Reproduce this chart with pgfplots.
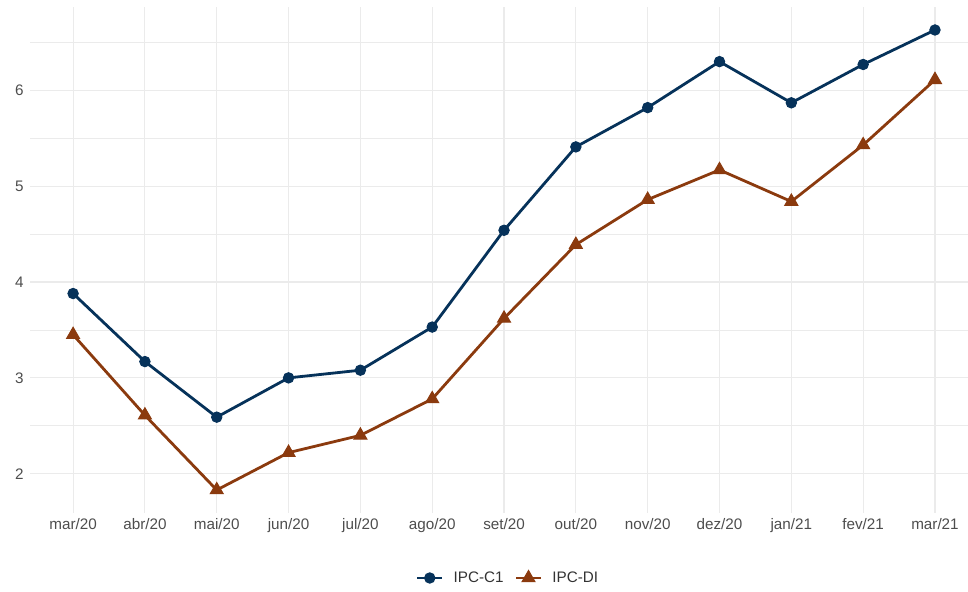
\documentclass[border=0pt]{standalone}
\usepackage{pgfplots}
\pgfplotsset{compat=1.18}
\usepackage{fontspec}
\setmainfont{Liberation Sans}
\definecolor{cnavy}{HTML}{06325A}
\definecolor{cbrown}{HTML}{8B3A0E}
\definecolor{grid}{HTML}{EBEBEB}
\definecolor{ticktxt}{HTML}{4D4D4D}
\begin{document}
\begin{tikzpicture}[x=1bp,y=1bp]
\useasboundingbox (0,0) rectangle (968,592);
\begin{axis}[
  at={(30bp,79bp)}, anchor=south west,
  scale only axis, width=938bp, height=506bp,
  xmin=-0.6, xmax=12.46, ymin=1.59, ymax=6.87,
  axis line style={draw=none},
  tick style={draw=none},
  xtick={0,...,12},
  xticklabels={mar/20,abr/20,mai/20,jun/20,jul/20,ago/20,set/20,out/20,nov/20,dez/20,jan/21,fev/21,mar/21},
  ytick={2,3,4,5,6},
  minor ytick={1.5,2.5,3.5,4.5,5.5,6.5},
  grid=both,
  major grid style={draw=grid, line width=1.1bp},
  minor grid style={draw=grid, line width=0.6bp},
  ticklabel style={font=\fontsize{15.3}{18}\selectfont, text=ticktxt},
  /pgf/number format/assume math mode=true,
  xticklabel style={yshift=-2bp},
  yticklabel style={xshift=-3bp},
  legend style={at={(480bp,-65bp)}, anchor=center, draw=none, fill=none, legend columns=2,
    font=\fontsize{15.3}{18}\selectfont, text=black!80,
    nodes={inner xsep=6bp},
    /tikz/every odd column/.append style={column sep=4bp}},
  legend image code/.code={\draw[#1] (0bp,0bp) -- (25bp,0bp); \draw[#1, mark repeat=2, mark phase=2] plot coordinates {(0bp,0bp) (12.5bp,0bp) (25bp,0bp)};},
]
\addplot[cnavy, line width=2.8bp, mark=*, mark size=5.2bp, mark options={solid, line width=1bp}] coordinates {
(0,3.88) (1,3.17) (2,2.59) (3,3.00) (4,3.08) (5,3.53) (6,4.54) (7,5.41) (8,5.82) (9,6.30) (10,5.87) (11,6.27) (12,6.63)};
\addlegendentry{IPC-C1\rule{5bp}{0pt}}
\addplot[cbrown, line width=2.8bp, mark=triangle*, mark size=7.5bp, mark options={solid, line width=1bp}] coordinates {
(0,3.45) (1,2.61) (2,1.83) (3,2.22) (4,2.40) (5,2.78) (6,3.62) (7,4.39) (8,4.86) (9,5.17) (10,4.84) (11,5.43) (12,6.11)};
\addlegendentry{IPC-DI}
\end{axis}
\end{tikzpicture}
\end{document}
